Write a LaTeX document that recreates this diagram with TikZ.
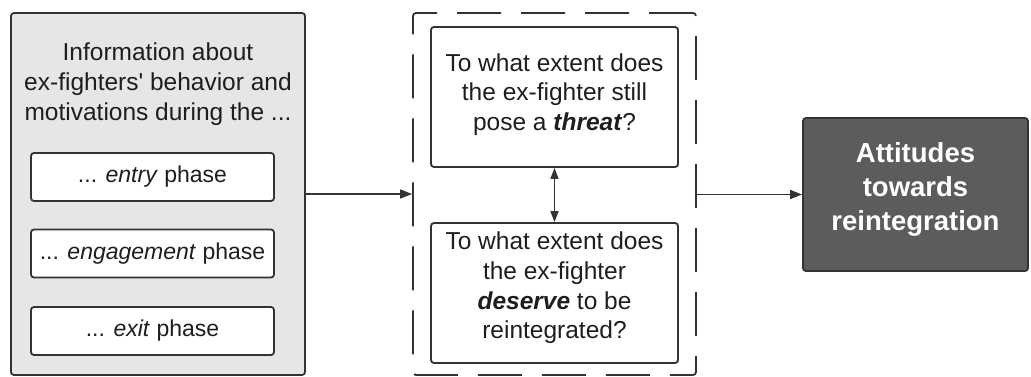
\documentclass[tikz,border=0pt]{standalone}
\usepackage{fontspec}
\setmainfont{Liberation Sans}[Ligatures=TeXOff]
\usetikzlibrary{arrows.meta}
\definecolor{linec}{HTML}{333333}
\definecolor{txtc}{HTML}{1E1E1E}
\definecolor{lightfill}{HTML}{E6E6E6}
\definecolor{darkfill}{HTML}{5C5C5C}
\tikzset{
  box/.style={draw=linec, line width=1.8pt, rounded corners=3pt, inner sep=0pt, text=txtc},
  phasebox/.style={box, fill=white, minimum width=243pt, minimum height=48pt, font=\fontsize{23}{28}\selectfont},
  qbox/.style={box, fill=white, minimum width=247pt, minimum height=140pt},
  qtext/.style={align=center, text=txtc, font=\fontsize{24.5}{29.7}\selectfont, inner sep=0pt},
  conn/.style={draw=linec, line width=1.6pt, -{Triangle[length=12pt,width=9pt]}},
  dconn/.style={draw=linec, line width=1.6pt, {Triangle[length=11pt,width=8pt]}-{Triangle[length=11pt,width=8pt]}},
}
\begin{document}
\begin{tikzpicture}[x=1pt,y=-1pt]
\useasboundingbox (0,0) rectangle (1031,376);
% left grey box
\node[box, fill=lightfill, minimum width=294pt, minimum height=362pt] (info) at (158,194) {};
\node[qtext] (infotitle) at (158,84) {Information about\\ex-fighters' behavior and\\motivations during the ...};
\node[phasebox] (entry) at (152.5,177) {... \textit{entry} phase};
\node[phasebox] (engage) at (152.5,253.5) {... \textit{engagement} phase};
\node[phasebox] (exit) at (152.5,331) {... \textit{exit} phase};
% dashed group
\node[draw=linec, line width=1.8pt, rounded corners=3pt, dash pattern=on 44pt off 20pt, minimum width=283pt, minimum height=362pt, inner sep=0pt] (group) at (554.5,194) {};
\node[qbox] (threat) at (554.5,97) {};
\node[qtext] (threattext) at (554.5,94.5) {To what extent does\\the ex-fighter still\\pose a \textbf{\textit{threat}}?};
\node[qbox] (deserve) at (554.5,293) {};
\node[qtext] (deservetext) at (554.5,288) {To what extent does\\the ex-fighter\\\textbf{\textit{deserve}} to be\\reintegrated?};
% dark box
\node[box, fill=darkfill, minimum width=225pt, minimum height=153pt] (att) at (915.5,194.5) {};
\node[align=center, text=white, font=\fontsize{27.5}{34}\selectfont\bfseries, inner sep=0pt] (atttext) at (915.5,189) {Attitudes\\towards\\reintegration};
% connectors
\draw[conn] (info.east |- 0,194) -- (group.west |- 0,194);
\draw[conn] (group.east |- 0,194.5) -- (att.west |- 0,194.5);
\draw[dconn] (threat.south) -- (deserve.north);
\end{tikzpicture}
\end{document}
